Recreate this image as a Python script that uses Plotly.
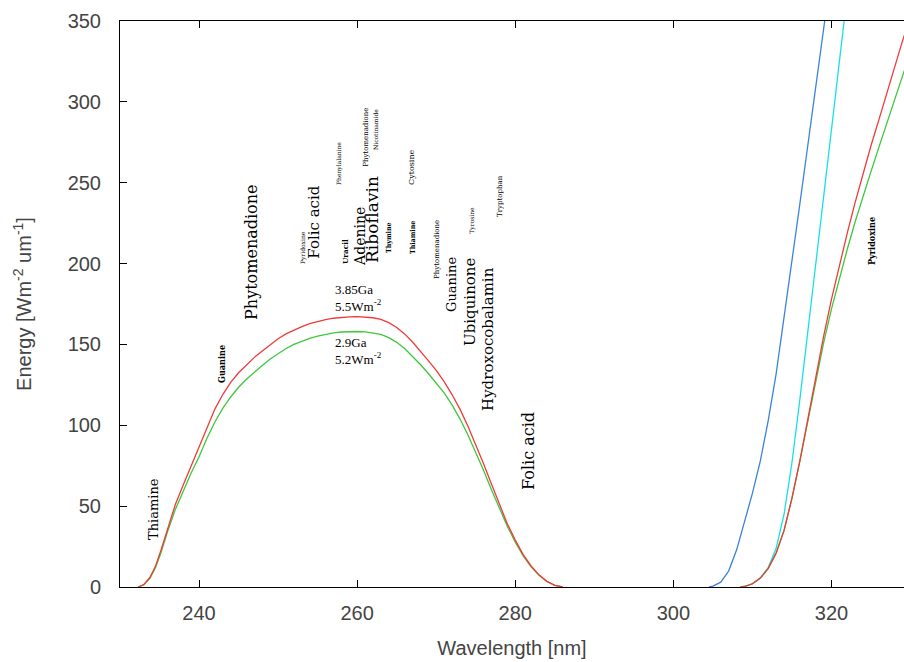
import plotly.graph_objects as go

# ---------------- data ----------------
# UV lobe (red = 3.85 Ga, green = 2.9 Ga)
lobe_wl = [232.3, 233, 233.8, 234.5, 235.2, 236, 237, 238, 239, 240, 241, 242, 243, 244, 245,
           246, 247, 248, 249, 250, 251, 252, 253, 254, 255, 256, 257, 258, 259, 260, 261, 262,
           263, 264, 265, 266, 267, 268, 269, 270, 271, 272, 273, 274, 275, 276, 277, 278, 279,
           280, 281, 282, 283, 284, 285, 286]
lobe_red = [0, 1.5, 6, 13, 23, 36, 51, 63, 75, 86, 99, 110, 119, 126.5, 132.5,
            137.5, 142, 146, 150, 153.5, 156.5, 159, 161, 162.8, 164.2, 165.3, 166.2, 166.8, 167.1, 167.2, 167, 166.5,
            165.5, 163.5, 160.5, 156.5, 151.5, 146, 140, 134, 127, 119, 110, 99.5, 88, 76, 63.5, 51, 39,
            29, 20, 13, 7.5, 3.5, 1, 0]
lobe_green = [0, 1.3, 5.5, 12, 21.5, 34, 48, 59.5, 70.5, 80.5, 92, 102, 110.5, 117.5, 123.5,
              128.5, 133, 137, 141, 144.5, 147.5, 150, 152, 153.8, 155.2, 156.3, 157.2, 157.7, 158, 158, 157.8, 157.2,
              156.2, 154.2, 151.3, 147.5, 142.8, 137.6, 132, 126.2, 120, 112.6, 104, 94.2, 83.5, 72, 60, 48.5, 37.5,
              27.7, 19.2, 12.5, 7.2, 3.4, 1, 0]

# long-wavelength rise
right_wl = [308.5, 309, 310, 311, 312, 313, 314, 315, 316, 317, 318, 319, 320, 321, 322, 323, 324,
            325, 326, 327, 328, 329, 330]
right_red = [0, 0.3, 2, 5.5, 11.5, 21, 35, 55, 78, 104, 130, 155, 178, 199, 219, 238, 256,
             273, 289, 305, 321, 338, 352]
right_green = [0, 0.3, 2, 5.5, 11.5, 21, 35, 55, 78, 103, 128, 151, 172, 191, 209, 226, 242,
               257, 272, 287, 302, 317, 331]

cyan_wl = [308.5, 309, 310, 311, 312, 313, 314, 315, 316, 317, 318, 319, 320, 321, 322]
cyan_val = [0, 0.3, 2, 5.5, 12, 24, 45, 77, 116, 157, 198, 240, 283, 325, 367]

blue_wl = [304.5, 305, 306, 307, 308, 309, 310, 311, 312, 313, 314, 315, 316, 317, 318, 319, 320]
blue_val = [0, 0.5, 3, 10, 23, 40, 58, 78, 103, 132, 166, 201, 237, 273, 309, 345, 381]

# molecule labels (rotated): text, wavelength, energy, font size, bold
lbl_text = ["Thiamine", "Guanine", "Phytomenadione", "Folic acid", "Pyridoxine", "Uracil",
            "Adenine", "Riboflavin", "Thymine", "Phenylalanine", "Phytomenadione", "Nicotinamide",
            "Cytosine", "Thiamine", "Phytomenadione", "Tyrosine", "Tryptophan", "Guanine",
            "Ubiquinone", "Hydroxocobalamin", "Folic acid", "Pyridoxine"]
lbl_wl = [234.17, 242.9, 246.7, 254.5, 253.15, 258.46,
          260.36, 261.88, 263.9, 257.7, 261.1, 262.26,
          266.8, 266.94, 270.1, 274.5, 278.07, 272.0,
          274.28, 276.55, 281.6, 325.13]
lbl_en = [48.2, 137.9, 206.6, 225.7, 209.6, 207.8,
          216.5, 227.0, 215.8, 262.2, 278.3, 282.6,
          259.7, 215.8, 208.4, 227.0, 241.8, 186.8,
          176.3, 153.4, 84.1, 214.0]
lbl_size = [13, 9, 16, 15, 6, 8,
            14, 17, 7, 6, 7, 6,
            8, 7, 7, 6, 7, 13,
            15, 15, 16, 9]
lbl_bold = [False, True, False, False, False, True,
            False, False, True, False, False, False,
            False, True, False, False, False, False,
            False, False, False, True]

# epoch labels
ep_text = ["3.85Ga<br>5.5Wm<sup>-2</sup>", "2.9Ga<br>5.2Wm<sup>-2</sup>"]
ep_wl = [256.95, 256.95]
ep_en = [178.5, 146.0]

x_ticks = [240, 260, 280, 300, 320]
y_ticks = [0, 50, 100, 150, 200, 250, 300, 350]

RED = "#f03a3a"
GREEN = "#3cc83c"
CYAN = "#18e0e6"
BLUE = "#3c82dc"

fig = go.Figure()
lw = 1.3
fig.add_trace(go.Scatter(x=blue_wl, y=blue_val, mode="lines", line=dict(color=BLUE, width=lw)))
fig.add_trace(go.Scatter(x=cyan_wl, y=cyan_val, mode="lines", line=dict(color=CYAN, width=lw)))
fig.add_trace(go.Scatter(x=lobe_wl, y=lobe_green, mode="lines", line=dict(color=GREEN, width=lw)))
fig.add_trace(go.Scatter(x=right_wl, y=right_green, mode="lines", line=dict(color=GREEN, width=lw)))
fig.add_trace(go.Scatter(x=lobe_wl, y=lobe_red, mode="lines", line=dict(color=RED, width=lw)))
fig.add_trace(go.Scatter(x=right_wl, y=right_red, mode="lines", line=dict(color=RED, width=lw)))

for t, xw, ye, s, b in zip(lbl_text, lbl_wl, lbl_en, lbl_size, lbl_bold):
    fig.add_annotation(
        x=xw, y=ye, xref="x", yref="y", text=(f"<b>{t}</b>" if b else t),
        textangle=-90, showarrow=False, xanchor="center", yanchor="middle",
        font=dict(family=("DejaVu Serif Condensed, DejaVu Serif" if b else "DejaVu Serif"),
                  size=s, color="black"))

for t, xw, ye in zip(ep_text, ep_wl, ep_en):
    fig.add_annotation(
        x=xw, y=ye, xref="x", yref="y", text=t, showarrow=False, align="left",
        xanchor="left", yanchor="middle",
        font=dict(family="Liberation Serif", size=13, color="black"))

axis_font = dict(family="Liberation Sans, Arial, sans-serif", size=20, color="#444444")

fig.update_layout(
    template="none",
    width=904, height=662,
    margin=dict(l=120, r=0, t=21, b=75, autoexpand=False),
    paper_bgcolor="white", plot_bgcolor="white",
    showlegend=False,
    xaxis=dict(range=[230, 329.17], tickvals=x_ticks, ticks="inside", ticklen=7,
               tickcolor="black", showline=True, linecolor="black", linewidth=1,
               mirror="ticks", showgrid=False, zeroline=False, tickfont=axis_font,
               ticklabelstandoff=8, automargin=False,
               title=dict(text="Wavelength [nm]", font=axis_font, standoff=17)),
    yaxis=dict(range=[0, 350], tickvals=y_ticks, ticks="inside", ticklen=7,
               tickcolor="black", showline=True, linecolor="black", linewidth=1,
               mirror=False, showgrid=False, zeroline=False, tickfont=axis_font,
               ticklabelstandoff=14, automargin=False,
               title=dict(text="Energy [Wm<sup>-2</sup> um<sup>-1</sup>]", font=axis_font, standoff=30)),
)

# remove the default page margin so the 904x662 figure fills the window exactly
fig.write_html("out.html",
               config={"displayModeBar": False},
               post_script="document.body.style.margin='0';document.body.style.overflow='hidden';")
